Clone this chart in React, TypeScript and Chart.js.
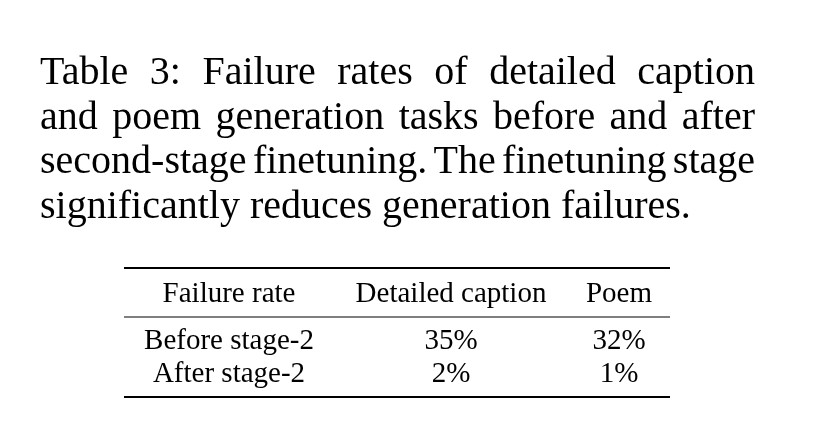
import { useEffect, useRef } from 'react';
import { Chart, registerables } from 'chart.js';

Chart.register(...registerables);

const captionLines = [
  'Table 3:  Failure rates of detailed caption',
  'and poem generation tasks before and after',
  'second-stage finetuning. The finetuning stage',
  'significantly reduces generation failures.',
];
const columns = ['Failure rate', 'Detailed caption', 'Poem'];
const rowLabels = ['Before stage-2', 'After stage-2'];
const captionValues = ['35%', '2%'];
const poemValues = ['32%', '1%'];

const serif = '"Liberation Serif", "DejaVu Serif", serif';

const tablePlugin = {
  id: 'tablePlugin',
  afterDraw(chart: Chart) {
    const ctx = chart.ctx;
    ctx.save();
    ctx.fillStyle = '#000';
    ctx.strokeStyle = '#000';
    ctx.textBaseline = 'alphabetic';

    // caption, justified except last line
    ctx.font = `40px ${serif}`;
    const left = 40;
    const right = 755;
    captionLines.forEach((line, i) => {
      const y = 84 + i * 44.5;
      const words = line.split(/\s+/);
      ctx.textAlign = 'left';
      if (i === captionLines.length - 1) {
        ctx.fillText(line, left, y);
        return;
      }
      const wordsW = words.reduce((s, w) => s + ctx.measureText(w).width, 0);
      const gap = (right - left - wordsW) / (words.length - 1);
      let x = left;
      words.forEach((w) => {
        ctx.fillText(w, x, y);
        x += ctx.measureText(w).width + gap;
      });
    });

    // table
    const tl = 124;
    const tr = 670;
    const centers = [229, 451, 619];
    ctx.font = `29px ${serif}`;
    ctx.textAlign = 'center';
    const rule = (y: number, w: number) => {
      ctx.lineWidth = w;
      ctx.beginPath();
      ctx.moveTo(tl, y);
      ctx.lineTo(tr, y);
      ctx.stroke();
    };
    rule(268, 2.2);
    columns.forEach((c, j) => ctx.fillText(c, centers[j], 302));
    rule(317, 1.2);
    rowLabels.forEach((r, i) => {
      const y = 349 + i * 33;
      ctx.fillText(r, centers[0], y);
      ctx.fillText(captionValues[i], centers[1], y);
      ctx.fillText(poemValues[i], centers[2], y);
    });
    rule(397, 2.2);
    ctx.restore();
  },
};

export default function App() {
  const ref = useRef<HTMLCanvasElement>(null);
  useEffect(() => {
    document.body.style.margin = '0';
    if (!ref.current) return;
    const chart = new Chart(ref.current, {
      type: 'bar',
      data: { labels: columns, datasets: [] },
      options: {
        responsive: false,
        animation: false,
        events: [],
        scales: { x: { display: false }, y: { display: false } },
        plugins: { legend: { display: false }, tooltip: { enabled: false } },
      },
      plugins: [tablePlugin],
    });
    return () => chart.destroy();
  }, []);
  return (
    <div style={{ width: 834, height: 446, background: '#fff' }}>
      <canvas ref={ref} width={834} height={446} />
    </div>
  );
}
